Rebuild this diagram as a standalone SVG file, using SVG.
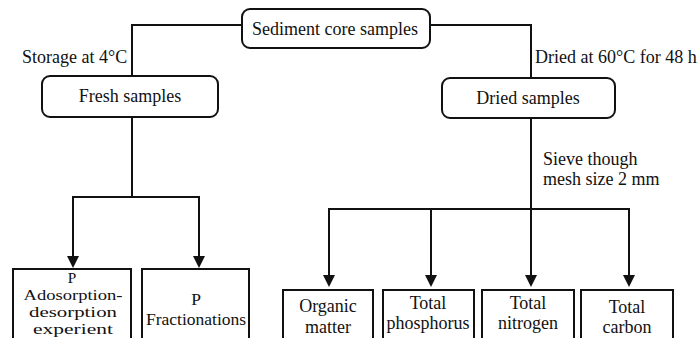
<svg xmlns="http://www.w3.org/2000/svg" width="698" height="338" viewBox="0 0 698 338">
<style>
text{font-family:"Liberation Serif","Times New Roman",serif;font-size:18px;fill:#111}
.c{text-anchor:middle}
.sm{font-size:15.3px}
.md{font-size:17.5px}
.n{fill:#fff;stroke:#111;stroke-width:2}
.l{fill:none;stroke:#111;stroke-width:2}
</style>
<defs>
<marker id="a" markerWidth="12" markerHeight="12" refX="0" refY="6" orient="auto-start-reverse" markerUnits="userSpaceOnUse" viewBox="0 0 12 12">
<path d="M0,0 L12,6 L0,12 Z" fill="#111"/>
</marker>
</defs>
<rect width="698" height="338" fill="#fff"/>
<g id="connectors">
<polyline class="l" points="242,25 132,25 132,76"/>
<polyline class="l" points="430,25 531,25 531,78"/>
<line class="l" x1="132" y1="117" x2="132" y2="197"/>
<polyline class="l" points="73,256 73,197 199,197 199,256" marker-start="url(#a)" marker-end="url(#a)"/>
<line class="l" x1="531" y1="118" x2="531" y2="275" marker-end="url(#a)"/>
<polyline class="l" points="329,275 329,209 629,209 629,275" marker-start="url(#a)" marker-end="url(#a)"/>
<line class="l" x1="431" y1="209" x2="431" y2="275" marker-end="url(#a)"/>
</g>
<text x="22" y="63">Storage at 4°C</text>
<text x="535" y="63">Dried at 60°C for 48 h</text>
<text x="543" y="165">Sieve though</text>
<text x="543" y="185">mesh size 2 mm</text>
<g id="sediment">
<rect class="n" x="242" y="9" width="188" height="39" rx="8"/>
<text class="c" x="335" y="35">Sediment core samples</text>
</g>
<g id="fresh">
<rect class="n" x="42" y="76" width="176" height="41" rx="8"/>
<text class="c" x="130" y="102">Fresh samples</text>
</g>
<g id="dried">
<rect class="n" x="442" y="78" width="173" height="40" rx="8"/>
<text class="c" x="528" y="104">Dried samples</text>
</g>
<g id="p-ads">
<rect class="n" x="13" y="269" width="118" height="75"/>
<text class="c sm" x="72" y="283">P</text>
<text class="c sm" x="73" y="300" textLength="99" lengthAdjust="spacingAndGlyphs">Adosorption-</text>
<text class="c sm" x="73" y="317" textLength="88" lengthAdjust="spacingAndGlyphs">desorption</text>
<text class="c sm" x="73" y="334" textLength="80" lengthAdjust="spacingAndGlyphs">experient</text>
</g>
<g id="p-frac">
<rect class="n" x="142" y="269" width="107" height="75"/>
<text class="c md" x="196" y="305">P</text>
<text class="c md" x="196" y="325">Fractionations</text>
</g>
<g id="organic">
<rect class="n" x="283" y="290" width="90" height="55"/>
<text class="c" x="328" y="312">Organic</text>
<text class="c" x="328" y="333">matter</text>
</g>
<g id="tp">
<rect class="n" x="383" y="290" width="91" height="55"/>
<text class="c" x="428" y="309">Total</text>
<text class="c" x="428" y="329">phosphorus</text>
</g>
<g id="tn">
<rect class="n" x="482" y="290" width="92" height="55"/>
<text class="c" x="528" y="309">Total</text>
<text class="c" x="528" y="329">nitrogen</text>
</g>
<g id="tc">
<rect class="n" x="581" y="290" width="92" height="55"/>
<text class="c" x="627" y="313">Total</text>
<text class="c" x="627" y="333">carbon</text>
</g>
</svg>
